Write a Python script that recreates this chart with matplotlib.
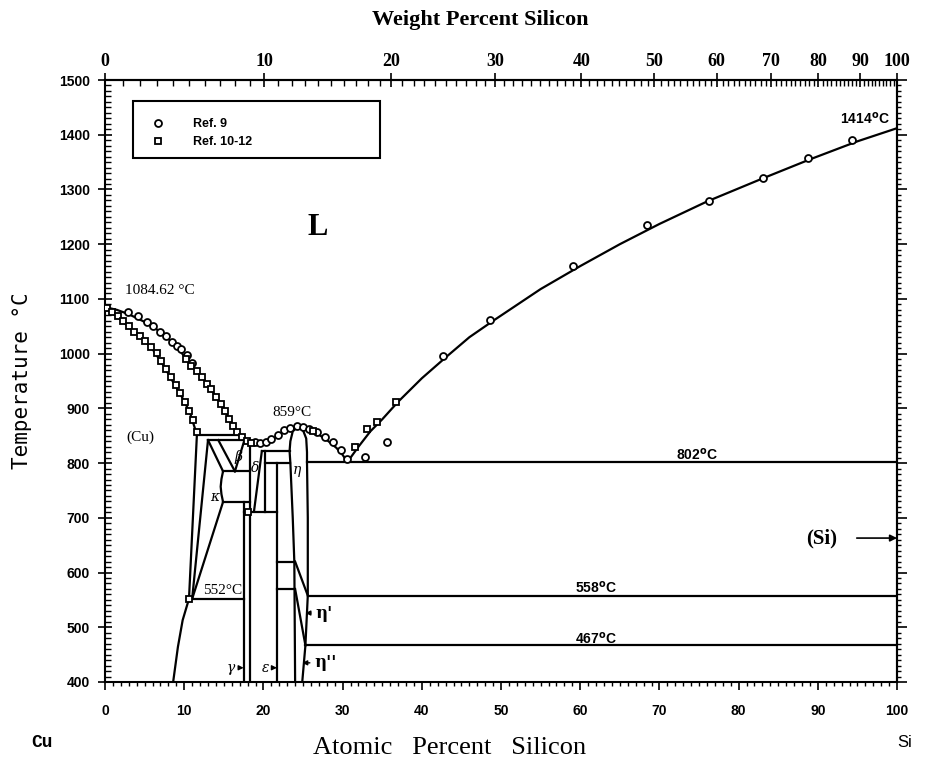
import numpy as np
import matplotlib.pyplot as plt
from matplotlib.patches import Rectangle

# liquidus: Cu side, eta maximum, eutectic, up to Si
liq_x = [0, 1.5, 3, 5, 7, 9, 10.7, 12.4, 13.6, 15.0, 16.0, 16.8, 17.6, 18.6, 19.6, 20.4, 21.4, 22.4, 23.4, 24.3,
         25.2, 26.2, 27.2, 28.2, 29.2, 30.0, 30.6, 32, 33.5, 35, 37, 40, 43, 46, 49, 55, 60, 65, 70, 76, 83, 89, 95, 100]
liq_T = [1085, 1080, 1072, 1058, 1040, 1014, 982, 955, 930, 900, 872, 852, 842, 834, 832, 836, 846, 857, 864, 866,
         864, 858, 850, 840, 828, 815, 802, 830, 858, 880, 912, 955, 993, 1030, 1060, 1118, 1160, 1200, 1237, 1278, 1320, 1355, 1388, 1412]

# solidus of (Cu)
sol_x = [0, 2, 3.5, 5, 6.1, 7.4, 8.6, 9.7, 10.7, 11.6]
sol_T = [1085, 1062, 1042, 1024, 1006, 978, 948, 921, 893, 852]

# other phase boundaries
cu_solv_x = [11.6, 10.6, 9.8, 9.2, 8.6]
cu_solv_T = [852, 552, 513, 464, 400]
kap_left_x = [13.0, 11.0]
kap_left_T = [842, 552]
kap_beta_x = [13.0, 14.9]
kap_beta_T = [842, 785]
beta_left_x = [14.3, 16.4]
beta_left_T = [842, 785]
beta_right_x = [17.6, 16.4]
beta_right_T = [842, 785]
kap_right_x = [14.9, 14.7, 14.6, 14.7, 14.9]
kap_right_T = [785, 771, 757, 743, 729]
kap_gam_x = [14.9, 11.0]
kap_gam_T = [729, 552]
gam_x = [17.5, 17.5]
gam_T = [729, 400]
del_left_x = [18.3, 18.3]
del_left_T = [834, 400]
del_right_x = [19.8, 18.8]
del_right_T = [822, 711]
eps_del_x = [20.2, 20.2]
eps_del_T = [822, 711]
eps_x = [21.7, 21.7]
eps_T = [800, 400]
eta_left_x = [24.3, 23.7, 23.4, 23.3, 23.4, 23.7, 23.9, 24.0]
eta_left_T = [866, 858, 840, 822, 800, 700, 620, 400]
eta_right_x = [24.3, 25.0, 25.4, 25.5, 25.5, 25.6, 25.6, 25.6, 25.3]
eta_right_T = [866, 860, 845, 820, 802, 700, 620, 558, 467]
eta1_x = [24.0, 25.6]
eta1_T = [620, 558]
eta2_x = [24.0, 25.3, 24.9]
eta2_T = [570, 467, 400]

# invariant (horizontal) lines
iso_T = [852, 842, 785, 729, 552, 711, 822, 800, 620, 570, 802, 558, 467]
iso_x0 = [11.6, 13.0, 14.9, 14.9, 10.6, 17.5, 19.8, 20.2, 21.7, 21.7, 25.5, 25.6, 25.3]
iso_x1 = [16.8, 17.6, 18.3, 18.3, 17.5, 21.7, 23.3, 23.4, 23.9, 23.9, 100, 100, 100]

# experimental points
ref9_x = [2.9, 4.1, 5.3, 6.1, 6.9, 7.7, 8.5, 9.1, 9.6, 10.3, 11.0, 18.9, 19.6, 20.3, 21.0, 21.8, 22.6, 23.4,
          24.2, 25.0, 25.8, 26.8, 27.8, 28.8, 29.8, 30.5, 32.8, 35.6, 42.7, 48.6, 59.1, 68.4, 76.3, 83.1, 88.8, 94.3]
ref9_T = [1076, 1068, 1058, 1050, 1040, 1032, 1022, 1014, 1008, 998, 982, 838, 836, 838, 844, 852, 860, 865,
          867, 866, 862, 856, 848, 838, 824, 808, 811, 838, 996, 1061, 1160, 1235, 1279, 1321, 1357, 1390]
ref10_x = [0.3, 0.9, 1.6, 2.3, 3.0, 3.7, 4.4, 5.1, 5.8, 6.5, 7.1, 7.7, 8.3, 8.9, 9.5, 10.1, 10.6, 11.1, 11.6,
           10.2, 10.9, 11.6, 12.3, 12.9, 13.4, 14.0, 14.6, 15.2, 15.7, 16.2, 16.7, 17.3, 17.9, 18.4,
           26.3, 31.6, 33.1, 34.3, 36.7, 10.6, 18.0]
ref10_T = [1083, 1076, 1068, 1060, 1050, 1040, 1032, 1024, 1013, 1001, 987, 972, 958, 943, 928, 912, 895, 878, 856,
           990, 978, 968, 958, 945, 935, 920, 908, 895, 880, 868, 856, 847, 840, 836,
           858, 829, 862, 875, 912, 552, 711]

# top axis: weight percent <-> atomic percent
def at2wt(a):
    a = np.asarray(a, dtype=float)
    return 100 * a * 28.086 / (a * 28.086 + (100 - a) * 63.546)

def wt2at(w):
    w = np.asarray(w, dtype=float)
    return 100 * (w / 28.086) / (w / 28.086 + (100 - w) / 63.546)

serif = 'Liberation Serif'
sans = 'Liberation Sans'

fig = plt.figure(figsize=(9.32, 7.65), dpi=100)
ax = fig.add_axes([0.1127, 0.1085, 0.8498, 0.7869])
lw = 1.6

ax.plot(liq_x, liq_T, 'k-', lw=lw)
ax.plot(sol_x, sol_T, 'k-', lw=lw)
for bx, bT in [(cu_solv_x, cu_solv_T), (kap_left_x, kap_left_T), (kap_beta_x, kap_beta_T),
               (beta_left_x, beta_left_T), (beta_right_x, beta_right_T), (kap_right_x, kap_right_T),
               (kap_gam_x, kap_gam_T), (gam_x, gam_T), (del_left_x, del_left_T), (del_right_x, del_right_T),
               (eps_del_x, eps_del_T), (eps_x, eps_T), (eta_left_x, eta_left_T), (eta_right_x, eta_right_T),
               (eta1_x, eta1_T), (eta2_x, eta2_T)]:
    ax.plot(bx, bT, 'k-', lw=lw)
for T, x0, x1 in zip(iso_T, iso_x0, iso_x1):
    ax.plot([x0, x1], [T, T], 'k-', lw=lw)

ax.plot(ref9_x, ref9_T, 'o', mfc='white', mec='k', mew=1.3, ms=5, label='Ref. 9', zorder=3)
ax.plot(ref10_x, ref10_T, 's', mfc='white', mec='k', mew=1.3, ms=4.6, label='Ref. 10-12', zorder=3)

ax.set_xlim(0, 100)
ax.set_ylim(400, 1500)
ax.set_xticks(range(0, 101, 10))
ax.set_xticks(range(0, 101, 1), minor=True)
ax.set_yticks(range(400, 1501, 100))
ax.set_yticks(range(400, 1501, 10), minor=True)
ax.tick_params(axis='x', which='major', direction='out', length=6, width=1.2, labelsize=10, pad=10)
ax.tick_params(axis='x', which='minor', direction='out', length=3, width=1)
ax.tick_params(axis='y', which='major', direction='inout', length=10, width=1.2, labelsize=10, pad=6)
ax.tick_params(axis='y', which='minor', direction='in', length=4, width=1)
plt.setp(ax.get_xticklabels() + ax.get_yticklabels(), fontweight='bold', family=sans)
for s in ax.spines.values():
    s.set_linewidth(1.5)

right = ax.secondary_yaxis('right')
right.set_yticks(range(400, 1501, 100))
right.set_yticks(range(400, 1501, 10), minor=True)
right.tick_params(which='major', direction='out', length=7, width=1.2, labelright=False)
right.tick_params(which='minor', direction='out', length=3, width=1)
right.spines['right'].set_linewidth(1.5)

top = ax.secondary_xaxis('top', functions=(at2wt, wt2at))
top.set_xticks(range(0, 101, 10))
top.set_xticks(range(0, 101, 1), minor=True)
top.tick_params(which='major', direction='inout', length=10, width=1.2, labelsize=13, pad=2)
top.tick_params(which='minor', direction='in', length=4, width=1)
plt.setp(top.get_xticklabels(), fontweight='bold', family=serif)
top.spines['top'].set_linewidth(1.5)

# legend box
ax.add_patch(Rectangle((0.035, 0.870), 0.312, 0.095, transform=ax.transAxes, fill=False, lw=1.5, ec='k', zorder=4))
ax.legend(loc='upper left', bbox_to_anchor=(0.045, 0.955), frameon=False, handlelength=1, handletextpad=2.3,
          labelspacing=0.45, prop=dict(weight='bold', size=9, family=sans))

# labels on the diagram
ax.text(2.5, 1116, '1084.62 °C', family=serif, fontsize=11, va='center')
ax.text(26.9, 1230, 'L', family=serif, fontsize=22, fontweight='bold', ha='center', va='center')
ax.text(4.5, 848, '(Cu)', family=serif, fontsize=11, ha='center', va='center')
ax.text(23.6, 892, '859°C', family=serif, fontsize=11, ha='center', va='center')
ax.text(14.8, 568, '552°C', family=serif, fontsize=11, ha='center', va='center')
ax.text(74.7, 815, r'802$^{\mathbf{o}}$C', family=sans, fontsize=10, fontweight='bold', ha='center', va='center')
ax.text(62.0, 572, r'558$^{\mathbf{o}}$C', family=sans, fontsize=10, fontweight='bold', ha='center', va='center')
ax.text(62.0, 480, r'467$^{\mathbf{o}}$C', family=sans, fontsize=10, fontweight='bold', ha='center', va='center')
ax.text(96.0, 1430, r'1414$^{\mathbf{o}}$C', family=sans, fontsize=10, fontweight='bold', ha='center', va='center')
ax.annotate('(Si)', xy=(100, 663), xytext=(90.5, 663), family=serif, fontsize=15, fontweight='bold',
            ha='center', va='center',
            arrowprops=dict(arrowstyle='-|>', color='k', lw=1.2, mutation_scale=10, shrinkA=12, shrinkB=0))

greek = dict(family='DejaVu Serif', style='italic', fontsize=10, ha='center', va='center')
ax.text(16.8, 811, 'β', **greek)
ax.text(13.8, 738, 'κ', **greek)
ax.text(18.9, 791, 'δ', **greek)
ax.text(24.2, 787, 'η', **greek)

arr = dict(arrowstyle='-|>', color='k', lw=1, mutation_scale=7, shrinkA=1, shrinkB=0)
ax.annotate('γ', xy=(17.5, 426), xytext=(15.9, 426), ha='center', va='center',
            family='DejaVu Serif', style='italic', fontsize=10, arrowprops=arr)
ax.annotate('ε', xy=(21.7, 426), xytext=(20.3, 426), ha='center', va='center',
            family='DejaVu Serif', style='italic', fontsize=10, arrowprops=arr)
ax.annotate("η'", xy=(25.3, 526), xytext=(27.6, 526), ha='center', va='center',
            family='DejaVu Serif', fontweight='bold', fontsize=12, arrowprops=arr)
ax.annotate("η''", xy=(24.9, 435), xytext=(27.8, 435), ha='center', va='center',
            family='DejaVu Serif', fontweight='bold', fontsize=12, arrowprops=arr)

# axis titles
fig.text(0.515, 0.974, 'Weight Percent Silicon', ha='center', va='center', fontsize=16,
         fontweight='bold', family=serif)
fig.text(0.482, 0.022, 'Atomic   Percent   Silicon', ha='center', va='center', fontsize=19, family=serif)
fig.text(0.024, 0.503, 'Temperature °C', ha='center', va='center', rotation=90, fontsize=15,
         family='DejaVu Sans Mono')
fig.text(0.045, 0.030, 'Cu', ha='center', va='center', fontsize=13, fontweight='bold', family='Liberation Mono')
fig.text(0.971, 0.030, 'Si', ha='center', va='center', fontsize=12, family=sans)

fig.savefig('out.png', dpi=100)
